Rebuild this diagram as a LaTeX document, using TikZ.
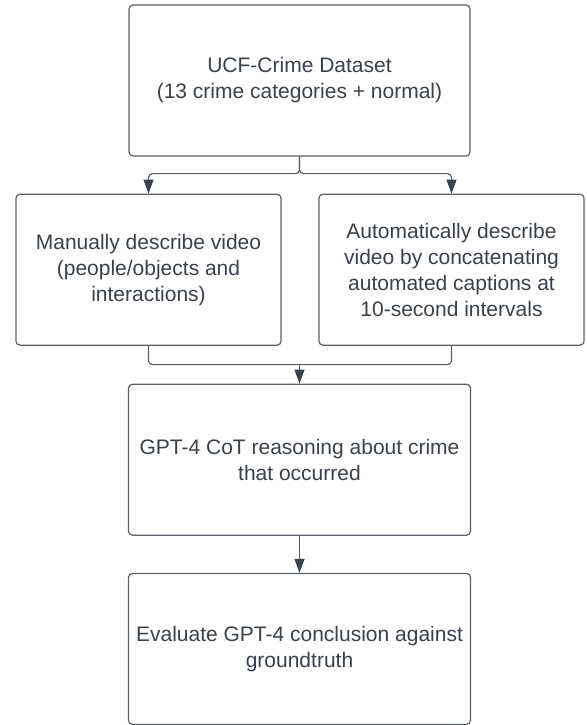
\documentclass[tikz,border=0pt]{standalone}
\usepackage{fontspec}
\setmainfont{Liberation Sans}
\usetikzlibrary{positioning, arrows.meta}
\definecolor{inkgray}{HTML}{3A414A}
\definecolor{linegray}{HTML}{5A6068}
\tikzstyle{box} = [rectangle, rounded corners=4pt, minimum width=341pt, minimum height=151pt, inner sep=0pt, align=center, text centered, draw=linegray, line width=1.2pt, text=inkgray, font=\fontsize{21}{26}\selectfont]
\tikzstyle{sidebox} = [box, minimum width=265pt]
\tikzstyle{arrow} = [line width=1.2pt, draw=linegray, rounded corners=4pt, -{Triangle[length=14pt,width=10pt,color=inkgray]}]
\tikzstyle{link} = [line width=1.2pt, draw=linegray, rounded corners=4pt]

\begin{document}
\begin{tikzpicture}[node distance=37pt]
\useasboundingbox (0,0) rectangle (586pt,-725pt);

\node (dataset) [box] at (299.5pt,-80.5pt) {UCF-Crime Dataset\\(13 crime categories + normal)};
\node (manual) [sidebox, below=of dataset, xshift=-151pt] {Manually describe video\\(people/objects and\\interactions)};
\node (auto) [sidebox, below=of dataset, xshift=152pt] {Automatically describe\\video by concatenating\\automated captions at\\10-second intervals};
\node (gpt) [box, below=of dataset, yshift=-190pt, minimum width=342pt] {GPT-4 CoT reasoning about crime\\that occurred};
\node (eval) [box, below=of gpt, minimum width=342pt] {Evaluate GPT-4 conclusion against\\groundtruth};

\coordinate (split) at ([yshift=-17pt]dataset.south);
\coordinate (merge) at ([yshift=19pt]gpt.north);

\draw [arrow] (dataset.south) -- (split) -| (manual.north);
\draw [arrow] (dataset.south) -- (split) -| (auto.north);
\draw [link] (manual.south) |- (merge);
\draw [link] (auto.south) |- (merge);
\draw [arrow] (merge) -- (gpt.north);
\draw [arrow] (gpt) -- (eval);

\end{tikzpicture}
\end{document}
